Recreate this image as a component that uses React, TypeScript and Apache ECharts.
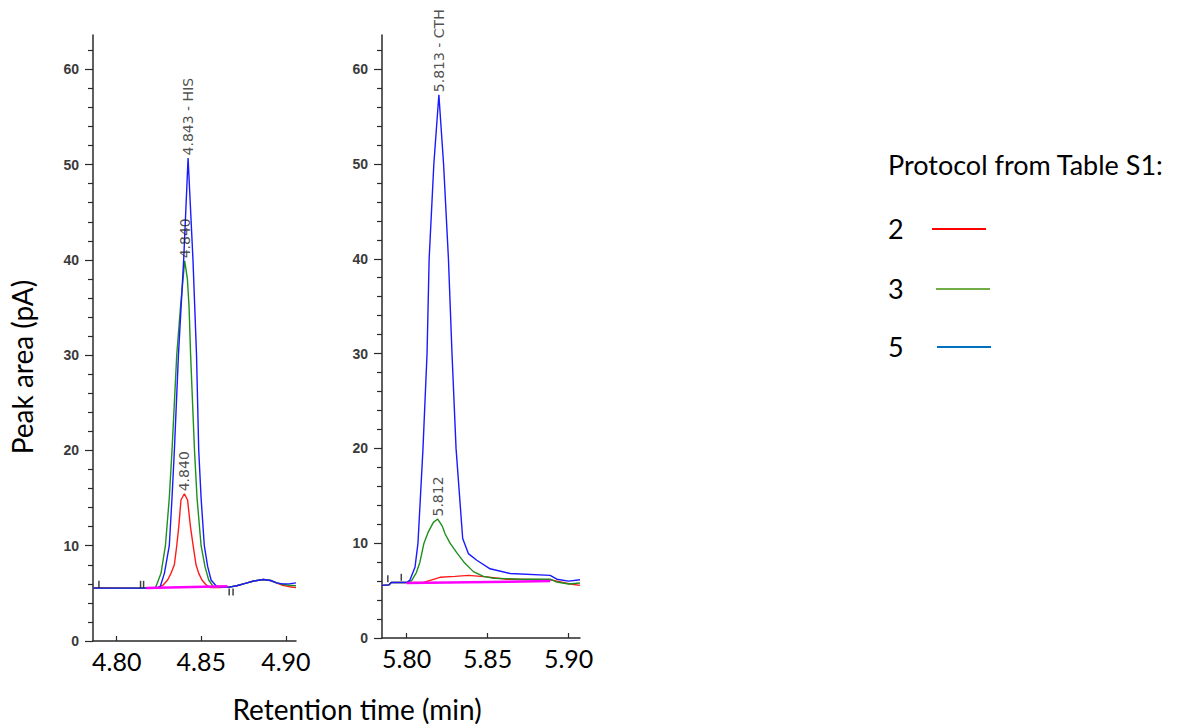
import React, { useEffect, useRef } from "react";
import * as echarts from "echarts";

// ---------- DATA ----------
// Left panel: HIS (retention time in min, signal in pA)
const hisProtocol2: [number, number][] = [
  [4.786, 5.6], [4.8, 5.58], [4.815, 5.55], [4.8235, 5.55], [4.8252, 5.65], [4.8276, 5.9],
  [4.8301, 6.4], [4.8321, 7.1], [4.8341, 8.0], [4.8355, 10.0], [4.8367, 12.0], [4.838, 14.8],
  [4.84, 15.45], [4.8419, 14.8], [4.8436, 12.0], [4.8452, 10.0], [4.8469, 8.0], [4.8485, 7.1],
  [4.8504, 6.4], [4.8528, 5.9], [4.8557, 5.6], [4.86, 5.62], [4.8665, 5.65], [4.871, 5.8],
  [4.876, 6.05], [4.881, 6.3], [4.8866, 6.45], [4.891, 6.35], [4.8945, 6.1], [4.898, 5.85],
  [4.902, 5.7], [4.906, 5.6]
];
const hisProtocol3: [number, number][] = [
  [4.786, 5.55], [4.8, 5.55], [4.815, 5.55], [4.8225, 5.6], [4.8233, 5.75], [4.8262, 7.1],
  [4.8288, 10.0], [4.8311, 15.0], [4.8327, 20.0], [4.8355, 30.0], [4.8377, 35.0], [4.8402, 39.9],
  [4.8418, 38.0], [4.8428, 35.0], [4.8437, 30.0], [4.846, 20.0], [4.8475, 15.0], [4.8499, 10.0],
  [4.8522, 7.8], [4.8544, 6.4], [4.8571, 5.7], [4.861, 5.65], [4.8665, 5.65], [4.871, 5.8],
  [4.876, 6.05], [4.881, 6.3], [4.8866, 6.45], [4.891, 6.35], [4.8945, 6.1], [4.898, 5.95],
  [4.902, 5.85], [4.906, 5.8]
];
const hisProtocol5: [number, number][] = [
  [4.786, 5.55], [4.8, 5.55], [4.815, 5.55], [4.824, 5.58], [4.8258, 5.75], [4.8282, 7.1],
  [4.8311, 10.0], [4.8327, 15.0], [4.8341, 20.0], [4.8365, 30.0], [4.8396, 40.0], [4.8422, 50.7],
  [4.8451, 40.0], [4.8472, 30.0], [4.8485, 20.0], [4.8499, 15.0], [4.8518, 10.0], [4.8538, 7.8],
  [4.8558, 6.4], [4.8587, 5.8], [4.862, 5.65], [4.8665, 5.65], [4.871, 5.8], [4.876, 6.05],
  [4.881, 6.3], [4.8866, 6.45], [4.891, 6.35], [4.8945, 6.1], [4.898, 6.0], [4.902, 6.0],
  [4.906, 6.1]
];
const hisBaseline: [number, number][] = [[4.8175, 5.55], [4.8655, 5.75]];
const hisMarkers: [number, number][] = [
  [4.7895, 5.95], [4.8141, 5.95], [4.8159, 5.95], [4.8665, 5.15], [4.8688, 5.15]
];
const hisPeaks: [number, number][] = [[4.8422, 50.7], [4.8402, 39.9], [4.84, 15.45]];
const hisPeakLabels = ["4.843 - HIS", "4.840", "4.840"];

// Right panel: CTH
const cthProtocol2: [number, number][] = [
  [5.7848, 5.55], [5.789, 5.6], [5.7905, 5.85], [5.8103, 5.85], [5.815, 6.1], [5.8206, 6.4],
  [5.83, 6.5], [5.8381, 6.6], [5.8494, 6.45], [5.8618, 6.2], [5.8886, 6.15], [5.8927, 6.0],
  [5.901, 5.7], [5.907, 5.55]
];
const cthProtocol3: [number, number][] = [
  [5.7848, 5.55], [5.789, 5.6], [5.7905, 5.85], [5.8, 5.85], [5.8031, 6.05], [5.806, 6.9],
  [5.8082, 8.0], [5.8107, 10.0], [5.8134, 11.2], [5.8165, 12.2], [5.8192, 12.55], [5.822, 11.8],
  [5.8237, 11.0], [5.8268, 10.0], [5.8309, 9.0], [5.8354, 8.0], [5.8412, 7.0], [5.8474, 6.5],
  [5.8536, 6.3], [5.87, 6.2], [5.8886, 6.2], [5.8927, 5.9], [5.9, 5.7], [5.907, 5.8]
];
const cthProtocol5: [number, number][] = [
  [5.7848, 5.55], [5.789, 5.6], [5.7905, 5.85], [5.8, 5.85], [5.802, 6.1], [5.8052, 7.5],
  [5.807, 10.0], [5.8101, 20.0], [5.8126, 30.0], [5.8139, 40.0], [5.8168, 50.0], [5.8199, 57.3],
  [5.8228, 50.0], [5.8258, 40.0], [5.828, 30.0], [5.8305, 20.0], [5.8346, 10.5], [5.8381, 8.9],
  [5.8433, 8.2], [5.8515, 7.3], [5.8639, 6.8], [5.8886, 6.6], [5.8927, 6.2], [5.9, 6.0],
  [5.907, 6.15]
];
const cthBaseline: [number, number][] = [[5.8, 5.8], [5.8886, 6.0]];
const cthMarkers: [number, number][] = [[5.7884, 6.25], [5.7967, 6.4]];
const cthPeaks: [number, number][] = [[5.8199, 57.3], [5.8192, 12.55]];
const cthPeakLabels = ["5.813 - CTH", "5.812"];

// Axis ticks
const hisXTicks = [4.8, 4.85, 4.9];
const cthXTicks = [5.8, 5.85, 5.9];
const yMajorTicks = [0, 10, 20, 30, 40, 50, 60];
const yMinorTicks = [2, 4, 6, 8, 12, 14, 16, 18, 22, 24, 26, 28, 32, 34, 36, 38, 42, 44, 46, 48, 52, 54, 56, 58, 62];

// Legend
const legendTitle = "Protocol from Table S1:";
const legendLabels = ["2", "3", "5"];
const legendColors = ["#ff0000", "#70ad47", "#0070c0"];

// ---------- STYLES ----------
const RED = "#ff1a1a";
const GREEN = "#1f8f1f";
const BLUE = "#1a1aff";
const MAGENTA = "#ff00ff";
const AXIS = "#2a2a2a";

const grids = [
  { left: 93, top: 35, width: 203, height: 606 },
  { left: 382, top: 35, width: 198, height: 603 }
];
const xRanges = [
  { min: 4.786, max: 4.906, ticks: hisXTicks },
  { min: 5.7848, max: 5.907, ticks: cthXTicks }
];
const Y_MAX = 63.6;

export default function App() {
  const ref = useRef<HTMLDivElement>(null);

  useEffect(() => {
    document.body.style.margin = "0";
    if (!ref.current) return;
    const chart = echarts.init(ref.current, undefined, { renderer: "svg" });

    const grid = [...grids, ...grids];
    const xAxis: any[] = [];
    const yAxis: any[] = [];
    for (let i = 0; i < 4; i++) {
      const p = i % 2;
      const main = i < 2;
      xAxis.push({
        gridIndex: i,
        type: "value",
        min: xRanges[p].min,
        max: xRanges[p].max,
        show: main,
        axisLine: { show: true, onZero: false, lineStyle: { color: AXIS, width: 1.5 } },
        axisTick: {
          show: true, inside: true, length: 5, customValues: xRanges[p].ticks,
          lineStyle: { color: AXIS, width: 1.2 }
        },
        axisLabel: {
          customValues: xRanges[p].ticks,
          formatter: (v: number) => v.toFixed(2),
          fontFamily: "Lato", fontSize: 25, color: "#000", margin: 7
        },
        splitLine: { show: false }
      });
      yAxis.push({
        gridIndex: i,
        type: "value",
        min: 0,
        max: Y_MAX,
        axisLine: { show: main, onZero: false, lineStyle: { color: AXIS, width: 1.5 } },
        axisTick: {
          show: true, inside: false, length: main ? 8 : 5,
          customValues: main ? yMajorTicks : yMinorTicks,
          lineStyle: { color: AXIS, width: 1.2 }
        },
        axisLabel: {
          show: main,
          customValues: yMajorTicks,
          fontFamily: "Liberation Sans", fontSize: 14, fontWeight: "bold", color: "#3a3a3a", margin: 14
        },
        splitLine: { show: false }
      });
    }

    const line = (name: string, data: [number, number][], color: string, idx: number, width = 1.4) => ({
      name, type: "line", data, xAxisIndex: idx, yAxisIndex: idx,
      showSymbol: false, symbol: "none", silent: true,
      lineStyle: { color, width }, z: 3
    });

    const peakSeries = (peaks: [number, number][], labels: string[], idx: number) => ({
      type: "scatter", xAxisIndex: idx, yAxisIndex: idx, symbolSize: 1, silent: true, z: 5,
      itemStyle: { color: "rgba(0,0,0,0)" },
      data: peaks.map((p, k) => ({
        value: p,
        label: {
          show: true, formatter: labels[k], position: "top", distance: 2, rotate: 90,
          align: "left", verticalAlign: "middle",
          fontFamily: "DejaVu Sans", fontSize: 14, color: "#222"
        }
      }))
    });

    const markerSeries = (data: [number, number][], idx: number) => ({
      type: "scatter", xAxisIndex: idx, yAxisIndex: idx, data, silent: true, z: 4,
      symbol: "rect", symbolSize: [1.5, 7], itemStyle: { color: "#111" }
    });

    const legendGraphics: any[] = [
      { type: "text", left: 888, top: 151, style: { text: legendTitle, font: "27px Lato", fill: "#000" } }
    ];
    const legendY = [228, 288, 346];
    const legendX = [932, 936, 937];
    legendLabels.forEach((t, k) => {
      legendGraphics.push({
        type: "text", x: 888, y: legendY[k], style: { text: t, font: "27px Lato", fill: "#000", verticalAlign: "middle" }
      });
      legendGraphics.push({
        type: "line", shape: { x1: legendX[k], y1: legendY[k] + 1, x2: legendX[k] + 54, y2: legendY[k] + 1 },
        style: { stroke: legendColors[k], lineWidth: 2 }
      });
    });

    chart.setOption({
      animation: false,
      grid,
      xAxis,
      yAxis,
      series: [
        line("HIS 2", hisProtocol2, RED, 0),
        line("HIS 3", hisProtocol3, GREEN, 0),
        line("HIS 5", hisProtocol5, BLUE, 0),
        line("HIS baseline", hisBaseline, MAGENTA, 0, 2.5),
        markerSeries(hisMarkers, 0),
        peakSeries(hisPeaks, hisPeakLabels, 0),
        line("CTH 2", cthProtocol2, RED, 1),
        line("CTH 3", cthProtocol3, GREEN, 1),
        line("CTH 5", cthProtocol5, BLUE, 1),
        line("CTH baseline", cthBaseline, MAGENTA, 1, 2.5),
        markerSeries(cthMarkers, 1),
        peakSeries(cthPeaks, cthPeakLabels, 1)
      ],
      graphic: [
        {
          type: "text", x: 22, y: 367, rotation: Math.PI / 2,
          style: { text: "Peak area (pA)", font: "28px Lato", fill: "#000", align: "center", verticalAlign: "middle" }
        },
        {
          type: "text", x: 357, y: 709,
          style: { text: "Retention time (min)", font: "28px Lato", fill: "#000", align: "center", verticalAlign: "middle" }
        },
        ...legendGraphics
      ]
    });

    return () => chart.dispose();
  }, []);

  return <div ref={ref} style={{ width: 1178, height: 725, background: "#fff" }} />;
}
